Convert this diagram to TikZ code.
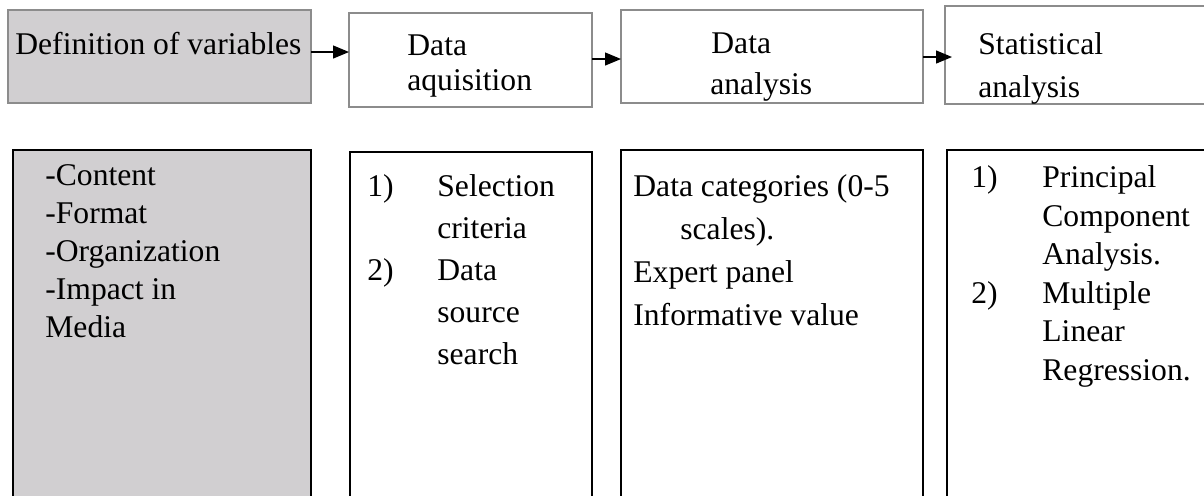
\documentclass[tikz,border=0pt]{standalone}
\usepackage{fontspec}
\setmainfont{Liberation Serif}
\usepackage{tikz}
\usetikzlibrary{positioning}
\usetikzlibrary{arrows.meta}
\usepackage{xcolor}

\definecolor{boxgray}{RGB}{209,207,209}
\definecolor{edgegray}{RGB}{140,140,140}

\tikzset{
  topbox/.style={draw=edgegray, line width=0.7pt, anchor=north west, inner sep=0pt, outer sep=0pt},
  listbox/.style={draw=black, line width=1.4pt, anchor=north west, inner sep=0pt, outer sep=0pt},
  txt/.style={anchor=base west, inner sep=0pt, font=\fontsize{15.8}{18}\selectfont},
  flow/.style={-{Triangle[length=8pt,width=6.5pt]}, line width=0.65pt},
}

\begin{document}
\begin{tikzpicture}[x=0.5pt,y=-0.5pt]
\useasboundingbox (0,0) rectangle (1204,495);
\clip (0,0) rectangle (1204,495);

% upper row
{
\node[topbox, fill=boxgray, minimum width=151.5pt, minimum height=46.5pt] (top1) at (8,10) {};
\node[topbox, minimum width=121.5pt, minimum height=47pt] (top2) at (349,13) {};
\node[topbox, minimum width=151pt, minimum height=46.5pt] (top3) at (621,10) {};
\node[topbox, minimum width=142.5pt, minimum height=49pt] (top4) at (945,6) {};
}

% arrows
{
\draw[flow] (top1.east |- 0,52) -- (top2.west |- 0,52);
\draw[flow] (top2.east |- 0,59) -- (top3.west |- 0,59);
\draw[flow, shorten >=-3.5pt] (top3.east |- 0,57) -- (top4.west |- 0,57);
}

% lower row
{
\node[listbox, fill=boxgray, minimum width=149pt, minimum height=185pt] (vars) at (13,150) {};
\node[listbox, minimum width=121pt, minimum height=184pt] (acq) at (350,152) {};
\node[listbox, minimum width=151pt, minimum height=185pt] (ana) at (621,150) {};
\node[listbox, minimum width=141.5pt, minimum height=185pt] (stat) at (947,150) {};
}

% titles
{
\node[txt] (t1) at (15,54) {Definition of variables};

\node[txt] (t2a) at (407,55) {Data};
\node[txt] (t2b) at (407,90) {aquisition};

\node[txt] (t3a) at (711,53) {Data};
\node[txt] (t3b) at (710,94) {analysis};

\node[txt] (t4a) at (978,54) {Statistical};
\node[txt] (t4b) at (978,97) {analysis};
}

% nodes
{
\node[txt] (v1) at (45,185) {-Content};
\node[txt] (v2) at (45,223) {-Format};
\node[txt] (v3) at (45,261) {-Organization};
\node[txt] (v4) at (45,299) {-Impact in};
\node[txt] (v5) at (45,337) {Media};

\node[txt] (a1) at (367,196) {1)};
\node[txt] (a1a) at (437,196) {Selection};
\node[txt] (a1b) at (437,238) {criteria};
\node[txt] (a2) at (367,280) {2)};
\node[txt] (a2a) at (437,280) {Data};
\node[txt] (a2b) at (437,322) {source};
\node[txt] (a2c) at (437,364) {search};

\node[txt] (d1) at (633,196) {Data categories (0-5};
\node[txt] (d1b) at (680,239) {scales).};
\node[txt] (d2) at (633,282) {Expert panel};
\node[txt] (d3) at (633,325) {Informative value};

\node[txt] (s1) at (971,187) {1)};
\node[txt] (s1a) at (1042,187) {Principal};
\node[txt] (s1b) at (1042,226) {Component};
\node[txt] (s1c) at (1042,264) {Analysis.};
\node[txt] (s2) at (971,303) {2)};
\node[txt] (s2a) at (1042,303) {Multiple};
\node[txt] (s2b) at (1042,341) {Linear};
\node[txt] (s2c) at (1042,380) {Regression.};
}

\end{tikzpicture}
\end{document}
